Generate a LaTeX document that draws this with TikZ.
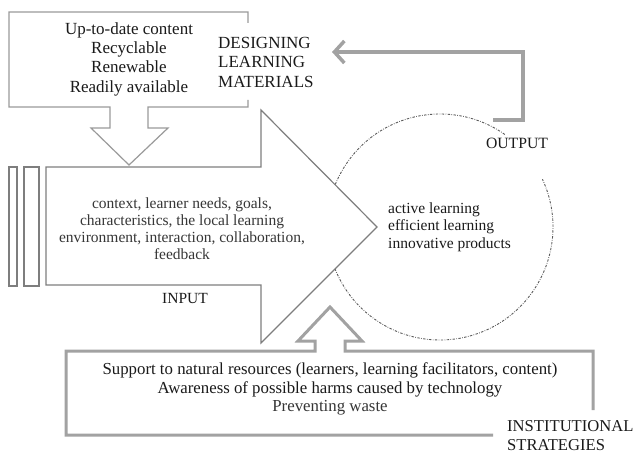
\documentclass[tikz,border=0pt]{standalone}
\usepackage{fontspec}
\setmainfont{Liberation Serif}
\usetikzlibrary{arrows.meta}
\definecolor{thingray}{HTML}{9A9A9A}
\definecolor{arrowgray}{HTML}{7E7E7E}
\definecolor{thickgray}{HTML}{A2A2A2}
\definecolor{circgray}{HTML}{5A5A5A}
\definecolor{txt}{HTML}{1A1A1A}
\definecolor{txtsoft}{HTML}{363636}
\tikzset{
  thinline/.style={draw=thingray, line width=1.2bp, fill=white, line join=miter},
  bigarrow/.style={draw=arrowgray, line width=1.2bp, fill=white, line join=miter},
  thickline/.style={draw=thickgray, line width=3bp, fill=white, line join=miter},
  feedback/.style={draw=thickgray, line width=3.5bp, line join=miter,
    -{Straight Barb[length=10bp,width=22bp]}},
  dashcirc/.style={draw=circgray, line width=0.9bp,
    dash pattern=on 2.4bp off 1.4bp on 0.7bp off 1.4bp},
  lbl/.style={inner sep=0pt, text=txt},
}
\begin{document}
\begin{tikzpicture}[x=1bp,y=-1bp]
\useasboundingbox (0,0) rectangle (634,455);
% circle (dash-dot), gap near OUTPUT
\coordinate (cc) at (440,227);
\draw[dashcirc] ([shift={(55:113bp)}]cc) arc[start angle=55, end angle=385, radius=113bp];
% big input arrow
\path[bigarrow] (46,167) -- (261,167) -- (261,110) -- (377,227) -- (261,343) -- (261,285) -- (46,285) -- cycle;
% bars
\draw[draw=arrowgray, line width=1.2bp] (9,167) rectangle (17,286);
\draw[draw=arrowgray, line width=1.2bp] (24,167) rectangle (39,286);
% top box with down arrow
\path[thinline] (248,23) -- (248,12) -- (9,12) -- (9,107) -- (110,107) -- (110,128) -- (91,128) -- (129,165) -- (168,128) -- (148,128) -- (148,107) -- (248,107) -- (248,100);
% bottom box with up arrow
\path[thickline] (493,435) -- (66,435) -- (66,351) -- (315,351) -- (315,341) -- (298,341) -- (330,307) -- (362,341) -- (345,341) -- (345,351) -- (593,351) -- (593,410);
% feedback arrow
\coordinate (fbstart) at (493,120);
\coordinate (fbcorner1) at (523,120);
\coordinate (fbcorner2) at (523,52);
\coordinate (fbend) at (332,52);
\draw[feedback] (fbstart) -- (fbcorner1) -- (fbcorner2) -- (fbend);
% texts
\node[lbl, align=center, font=\fontsize{17bp}{19.3bp}\selectfont] (topt) at (129,59)
  {Up-to-date content\\Recyclable\\Renewable\\Readily available};
\node[lbl, align=left, anchor=west, font=\fontsize{17bp}{19.5bp}\selectfont] (design) at (218,62)
  {DESIGNING\\LEARNING\\MATERIALS};
\node[lbl, align=center, text=txtsoft, font=\fontsize{15.5bp}{17bp}\selectfont] (inputt) at (182,229)
  {context, learner needs, goals,\\characteristics, the local learning\\environment, interaction, collaboration,\\feedback};
\node[lbl, font=\fontsize{15.5bp}{17bp}\selectfont] (input) at (185,299) {INPUT};
\node[lbl, align=left, anchor=west, font=\fontsize{15.5bp}{17.5bp}\selectfont] (outt) at (388,227)
  {active learning\\efficient learning\\innovative products};
\node[lbl, font=\fontsize{15.7bp}{17bp}\selectfont] (output) at (517,143) {OUTPUT};
\node[lbl, align=center, font=\fontsize{16.8bp}{18.7bp}\selectfont] (instt) at (330,389)
  {Support to natural resources (learners, learning facilitators, content)\\Awareness of possible harms caused by technology\\\textcolor{txtsoft}{Preventing waste}};
\node[lbl, align=left, anchor=west, font=\fontsize{16.6bp}{19bp}\selectfont] (inst) at (507,436)
  {INSTITUTIONAL\\STRATEGIES};
\end{tikzpicture}
\end{document}
